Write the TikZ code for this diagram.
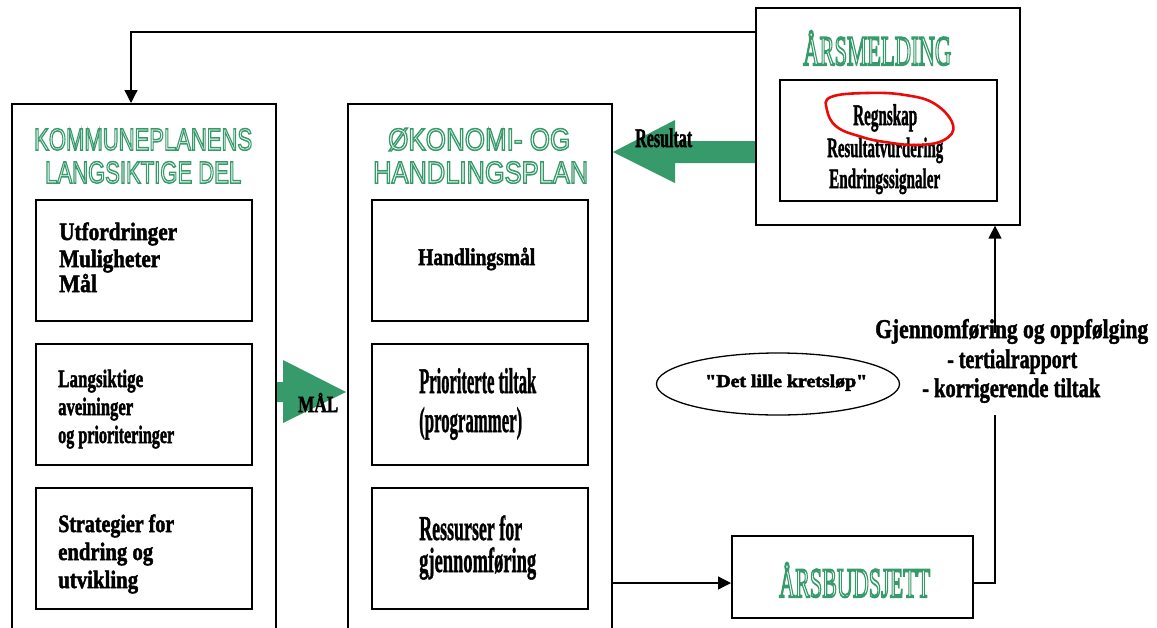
\documentclass[tikz,border=0pt]{standalone}
\usepackage{fontspec}
\usepackage{graphicx}
\setmainfont{Liberation Serif}
\newfontfamily\titlesans{Liberation Sans}
\newfontfamily\plainserif[Ligatures=TeXOff]{Liberation Serif}
\usetikzlibrary{arrows.meta,shapes.geometric,backgrounds}
\definecolor{kgreen}{RGB}{55,154,106}
\definecolor{kred}{RGB}{235,10,10}
\newcommand\fitw[3]{\resizebox{#1pt}{\height}{\fontsize{#2}{#2}\selectfont #3}}
\newcommand\fitb[3]{\special{pdf:literal direct 2 Tr 0.5 w}\resizebox{#1pt}{\height}{\fontsize{#2}{#2}\selectfont #3}\special{pdf:literal direct 0 Tr}}
\newcommand\hollow[2]{\special{pdf:literal direct 1 Tr #1 w}#2\special{pdf:literal direct 0 Tr}}
\begin{document}
\begin{tikzpicture}[x=1pt,y=-1pt,
  box/.style={draw, line width=1.6pt, inner sep=0pt, anchor=north west},
  conn/.style={line width=1.3pt},
  tip/.style={-{Triangle[length=13pt,width=13pt]}},
  lbl/.style={inner sep=0pt, anchor=base west, font=\bfseries},
  ttl/.style={inner sep=0pt, anchor=base west, text=kgreen},
  blockarrow/.style={fill=kgreen}]
\useasboundingbox (0,0) rectangle (1157,627);
\clip (0,0) rectangle (1157,627);

% main boxes
\node[box, minimum width=264pt, minimum height=560pt] (kp) at (11,103) {};
\node[box, minimum width=264pt, minimum height=560pt] (ok) at (347,103) {};
\node[box, minimum width=216pt, minimum height=121pt] (kp1) at (35,199) {};
\node[box, minimum width=216pt, minimum height=121pt] (kp2) at (35,343) {};
\node[box, minimum width=216pt, minimum height=121pt] (kp3) at (35,487) {};
\node[box, minimum width=216pt, minimum height=121pt] (ok1) at (371,199) {};
\node[box, minimum width=216pt, minimum height=121pt] (ok2) at (371,343) {};
\node[box, minimum width=216pt, minimum height=121pt] (ok3) at (371,487) {};
\node[box, minimum width=264pt, minimum height=217pt] (arsm) at (755,7) {};
\node[box, minimum width=217pt, minimum height=121pt] (arsmi) at (779,79) {};
\node[box, minimum width=241pt, minimum height=82pt] (budsj) at (731,535) {};
\node[ellipse, draw, line width=1.3pt, minimum width=243pt, minimum height=62pt, inner sep=0pt] (lille) at (778,384) {};

% green titles
\node[ttl] (tk1) at (34,150) {\hollow{1.5}{\fitw{218}{30.7}{\titlesans KOMMUNEPLANENS}}};
\node[ttl] (tk2) at (45,183) {\hollow{1.5}{\fitw{196}{30.7}{\titlesans LANGSIKTIGE DEL}}};
\node[ttl] (to1) at (388,150) {\hollow{1.5}{\fitw{182}{30.7}{\titlesans ØKONOMI- OG}}};
\node[ttl] (to2) at (373,183) {\hollow{1.5}{\fitw{215}{30.7}{\titlesans HANDLINGSPLAN}}};
\node[ttl] (ta) at (803,65) {\hollow{2}{\fitw{148}{42}{ÅRSMELDING}}};
\node[ttl] (tb) at (779,597) {\hollow{2}{\fitw{151}{42}{ÅRSBUDSJETT}}};

% left box texts
\node[lbl] (t1a) at (59,240) {\fitb{118}{25}{Utfordringer}};
\node[lbl] (t1b) at (59,267) {\fitb{101}{25}{Muligheter}};
\node[lbl] (t1c) at (59,292) {\fitb{38}{25}{Mål}};
\node[lbl] (t2a) at (58,387) {\fitb{85}{25}{Langsiktige}};
\node[lbl] (t2b) at (58,415) {\fitb{75}{25}{aveininger}};
\node[lbl] (t2c) at (58,443) {\fitb{116}{25}{og prioriteringer}};
\node[lbl] (t3a) at (58,532) {\fitb{116}{25}{Strategier for}};
\node[lbl] (t3b) at (58,560) {\fitb{95}{25}{endring og}};
\node[lbl] (t3c) at (58,588) {\fitb{80}{25}{utvikling}};

% middle box texts
\node[lbl] (m1) at (418,265) {\fitb{117}{24}{Handlingsmål}};
\node[lbl] (m2a) at (419,393) {\fitb{117}{36}{Prioriterte tiltak}};
\node[lbl] (m2b) at (419,432) {\fitb{103}{36}{(programmer)}};
\node[lbl] (m3a) at (419,540) {\fitb{103}{35}{Ressurser for}};
\node[lbl] (m3b) at (419,572) {\fitb{117}{35}{gjennomføring}};

% arsmelding texts
\node[lbl] (r1) at (853,125) {\fitb{64}{30}{Regnskap}};
\node[lbl] (r2) at (827,157) {\fitb{116}{28}{Resultatvurdering}};
\node[lbl] (r3) at (829,188) {\fitb{111}{28}{Endringssignaler}};

% other labels
\node[lbl] (lres) at (635,147) {\fitb{57}{27}{Resultat}};
\node[lbl] (lmal) at (298,412) {\fitb{40}{23}{MÅL}};
\node[lbl] (lkr) at (705,387) {\fitb{162}{18}{\plainserif\bfseries "Det lille kretsløp"}};
\node[lbl] (g1t) at (875,338) {\fitb{273}{27}{Gjennomføring og oppfølging}};
\node[lbl] (g2t) at (947,368) {\fitb{130}{27}{- tertialrapport}};
\node[lbl] (g3t) at (922,397) {\fitb{178}{27}{- korrigerende tiltak}};

% connectors
\draw[conn,tip] (arsm.west |- 0,32) -| (131,0 |- kp.north);
\draw[conn,tip] (ok.east |- 0,583) -- (budsj.west |- 0,583);
\coordinate (gA) at (995,415);
\coordinate (gB) at (995,333);
\draw[conn] (budsj.east |- 0,583) -| (gA);
\draw[conn,tip] (gB) -- (gB |- arsm.south);

% red hand-drawn loop
\draw[kred, line width=2.6pt, line cap=round] plot[smooth cycle, tension=0.7]
  coordinates {(831,97) (867,93) (905,95) (935,104) (953,125) (944,140) (917,145) (885,142) (862,137) (837,127) (827,110)};

% block arrows
\begin{scope}[on background layer]
\fill[kgreen] (arsm.west |- 0,141) -- (675,141) -- (675,120) -- (613,152) -- (675,183) -- (675,163) -- (arsm.west |- 0,163) -- cycle;
\fill[kgreen] (kp.east |- 0,382) -- (283,382) -- (283,360) -- (346,392) -- (283,423) -- (283,402) -- (kp.east |- 0,402) -- cycle;
\end{scope}
\end{tikzpicture}
\end{document}
